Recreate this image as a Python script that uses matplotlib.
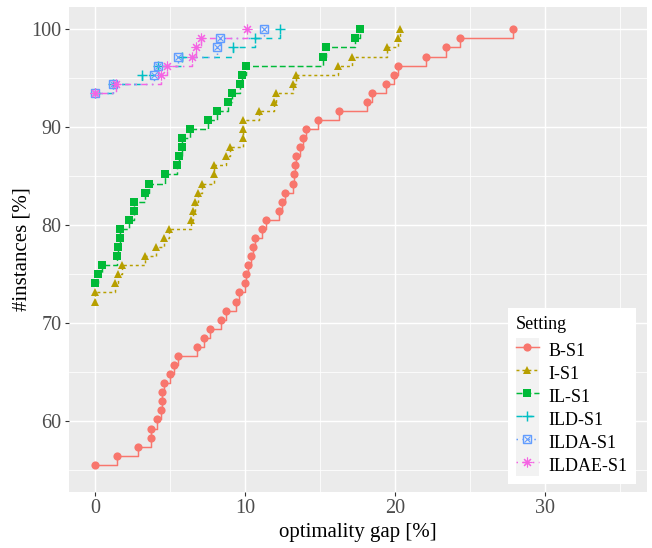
import matplotlib
matplotlib.use('Agg')
import matplotlib.pyplot as plt
from matplotlib.lines import Line2D
from matplotlib.patches import Rectangle
from matplotlib.legend_handler import HandlerBase, HandlerLine2D, HandlerTuple
from matplotlib.ticker import MultipleLocator

plt.rcParams['font.family'] = ['Liberation Serif', 'DejaVu Serif']

settings = ['B-S1', 'I-S1', 'IL-S1', 'ILD-S1', 'ILDA-S1', 'ILDAE-S1']
colors = ['#F8766D', '#B79F00', '#00BA38', '#00BFC4', '#619CFF', '#F564E3']

b_gap = [0, 1.47, 2.87, 3.73, 3.73, 4.13, 4.4, 4.47, 4.47, 4.6, 5.0, 5.27, 5.53,
         6.8, 7.27, 7.67, 8.4, 8.73, 9.4, 9.6, 10.0, 10.07, 10.2, 10.4, 10.53,
         10.67, 11.13, 11.4, 12.27, 12.47, 12.67, 13.2, 13.27, 13.33, 13.4, 13.67,
         13.87, 14.07, 14.87, 16.27, 18.13, 18.47, 19.4, 19.93, 20.2, 22.07, 23.4,
         24.33, 27.87]
b_pct = [55.56, 56.48, 57.41, 58.33, 59.26, 60.19, 61.11, 62.04, 62.96, 63.89,
         64.81, 65.74, 66.67, 67.59, 68.52, 69.44, 70.37, 71.30, 72.22, 73.15,
         74.07, 75.00, 75.93, 76.85, 77.78, 78.70, 79.63, 80.56, 81.48, 82.41,
         83.33, 84.26, 85.19, 86.11, 87.04, 87.96, 88.89, 89.81, 90.74, 91.67,
         92.59, 93.52, 94.44, 95.37, 96.30, 97.22, 98.15, 99.07, 100.00]

i_gap = [0, 0, 1.33, 1.53, 1.78, 3.33, 4.05, 4.58, 4.89, 6.4, 6.52, 6.65, 6.87,
         7.11, 7.89, 7.89, 8.71, 9.0, 9.83, 9.83, 9.85, 10.93, 11.89, 12.02,
         13.16, 13.36, 16.18, 17.09, 19.42, 20.18, 20.29]
i_pct = [72.22, 73.15, 74.07, 75.00, 75.93, 76.85, 77.78, 78.70, 79.63, 80.56,
         81.48, 82.41, 83.33, 84.26, 85.19, 86.11, 87.04, 87.96, 88.89, 89.81,
         90.74, 91.67, 92.59, 93.52, 94.44, 95.37, 96.30, 97.22, 98.15, 99.07,
         100.00]

il_gap = [0, 0.2, 0.47, 1.47, 1.53, 1.67, 1.67, 2.27, 2.58, 2.58, 3.33, 3.6, 4.67,
          5.47, 5.58, 5.76, 5.8, 6.33, 7.53, 8.13, 8.87, 9.09, 9.67, 9.76, 10.03,
          15.18, 15.4, 17.33, 17.62]
il_pct = [74.07, 75.00, 75.93, 76.85, 77.78, 78.70, 79.63, 80.56, 81.48, 82.41,
          83.33, 84.26, 85.19, 86.11, 87.04, 87.96, 88.89, 89.81, 90.74, 91.67,
          92.59, 93.52, 94.44, 95.37, 96.30, 97.22, 98.15, 99.07, 100.00]

ild_gap = [0, 1.2, 3.09, 4.2, 5.76, 9.2, 10.67, 12.31]
ild_pct = [93.52, 94.44, 95.37, 96.30, 97.22, 98.15, 99.07, 100.00]

ilda_gap = [0, 1.2, 3.93, 4.2, 5.49, 8.11, 8.31, 11.27]
ilda_pct = [93.52, 94.44, 95.37, 96.30, 97.22, 98.15, 99.07, 100.00]

ildae_gap = [0, 1.35, 4.38, 4.8, 6.42, 6.71, 7.07, 10.09]
ildae_pct = [93.52, 94.44, 95.37, 96.30, 97.22, 98.15, 99.07, 100.00]

x_ticks = [0, 10, 20, 30]
y_ticks = [60, 70, 80, 90, 100]

series_x = [b_gap, i_gap, il_gap, ild_gap, ilda_gap, ildae_gap]
series_y = [b_pct, i_pct, il_pct, ild_pct, ilda_pct, ildae_pct]

LW = 1.07
dash_styles = ['-', (0, (2, 2)), (0, (4, 2)), (0, (4, 4)), (0, (1, 3)), (0, (1, 3, 4, 3))]
marker_specs = [
    dict(marker='o', markersize=5.9, mew=0),
    dict(marker='^', markersize=6.4, mew=0),
    dict(marker='s', markersize=5.4, mew=0),
    dict(marker='+', markersize=7.4, mew=1.05),
    dict(marker='s', markersize=5.4, mew=1.0, markerfacecolor='none'),
    dict(marker=(8, 2, 0), markersize=7.0, mew=0.8),
]

fig = plt.figure(figsize=(6.52, 5.48), dpi=100)
ax = fig.add_axes([69 / 652, 1 - 491.7 / 548, (646.6 - 69) / 652, (491.7 - 6.7) / 548])
ax.set_facecolor('#EBEBEB')
for s in ax.spines.values():
    s.set_visible(False)

ax.set_xlim(-1.75, 36.75)
ax.set_ylim(52.82, 102.31)
ax.set_xticks(x_ticks)
ax.set_yticks(y_ticks)
ax.xaxis.set_minor_locator(MultipleLocator(5))
ax.yaxis.set_minor_locator(MultipleLocator(5))
ax.grid(which='major', color='white', linewidth=1.07)
ax.grid(which='minor', color='white', linewidth=0.55)
ax.set_axisbelow(True)
ax.tick_params(which='minor', length=0)
ax.tick_params(which='major', length=3.0, width=0.8, color='#333333',
               labelcolor='#4D4D4D', labelsize=14.5, pad=2.5)

# lines first, then points (as in layered plot)
for i in range(6):
    ax.plot(series_x[i], series_y[i], drawstyle='steps-post', color=colors[i],
            linestyle=dash_styles[i], linewidth=LW, zorder=2)
for i in range(6):
    ms = marker_specs[i]
    ax.plot(series_x[i], series_y[i], linestyle='none', color=colors[i],
            zorder=3, **ms)
    if i == 4:
        ax.plot(series_x[i], series_y[i], linestyle='none', color=colors[i],
                marker='x', markersize=4.2, mew=0.8, zorder=3)

ax.set_xlabel('optimality gap [%]', fontsize=15, color='black', labelpad=3)
ax.set_ylabel('#instances [%]', fontsize=15, color='black', labelpad=0)


class KeyBG(HandlerBase):
    def __init__(self, inner):
        super().__init__()
        self.inner = inner

    def create_artists(self, legend, orig_handle, xdescent, ydescent, width,
                       height, fontsize, trans):
        r = Rectangle((-xdescent, -ydescent), width, height, facecolor='#F2F2F2',
                      edgecolor='none', transform=trans)
        arts = self.inner.create_artists(legend, orig_handle, xdescent, ydescent,
                                         width, height, fontsize, trans)
        return [r] + list(arts)


handles = []
hmap = {}
for i in range(6):
    ms = dict(marker_specs[i])
    h = Line2D([], [], color=colors[i], linestyle=dash_styles[i], linewidth=LW, **ms)
    if i == 4:
        hx = Line2D([], [], color=colors[i], linestyle='none', marker='x',
                    markersize=4.2, mew=0.8)
        h = (h, hx)
        hmap[h] = KeyBG(HandlerTuple(ndivide=1, pad=0))
    else:
        hmap[h] = KeyBG(HandlerLine2D(numpoints=1))
    handles.append(h)

leg = ax.legend(handles, settings, handler_map=hmap, title='Setting',
                loc='lower right',
                bbox_to_anchor=(636 / 652, 1 - 484.3 / 548),
                bbox_transform=fig.transFigure, borderaxespad=0,
                fontsize=13, title_fontsize=13, alignment='left',
                labelspacing=0, handleheight=1.58, handlelength=1.27,
                handletextpad=0.55, borderpad=0.45, numpoints=1,
                frameon=True, fancybox=False, framealpha=1, edgecolor='none',
                facecolor='white')
leg._legend_box.sep = 4
leg.set_zorder(5)

fig.savefig('out.png', dpi=100)
